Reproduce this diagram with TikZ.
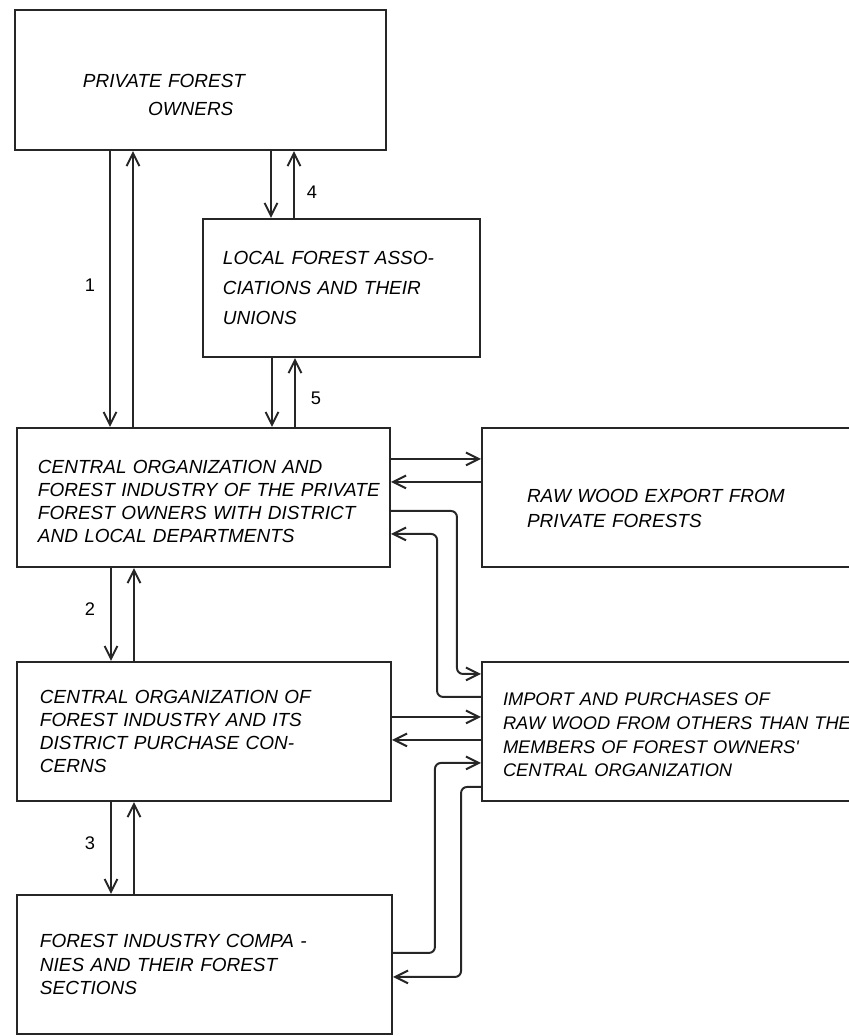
\documentclass[tikz,border=0pt]{standalone}
\usepackage{fontspec}
\newfontfamily\letterfont{Liberation Sans}
\usetikzlibrary{arrows.meta, calc}

\begin{document}
\begin{tikzpicture}[
  x=0.25mm, y=-0.25mm,
  box/.style={rectangle, draw=black!85, line width=1.5pt, align=left,
    inner ysep=2pt, minimum height=34.75mm,
    font=\letterfont\itshape\fontsize{13.5}{16.5}\selectfont},
  arr/.style={-{Straight Barb[length=3.2mm,width=3.2mm]}, line width=1.4pt, black!85},
  loop/.style={arr, rounded corners=1.5mm},
  num/.style={font=\letterfont\fontsize{13}{15}\selectfont}
]
\useasboundingbox (0,0) rectangle (849,1036);

% Boxes
\node[box, minimum width=92.75mm, minimum height=35mm, inner xsep=17mm, text width=58.75mm] (priv) at (200.5,80)
  {\rule{0pt}{31pt}PRIVATE FOREST\\[3.5pt]\hspace*{16.25mm}OWNERS};
\node[box, minimum width=69.25mm, minimum height=34.5mm, inner xsep=5mm, text width=59.25mm] (loc) at (341.5,288)
  {LOCAL FOREST ASSO-\\[5pt]CIATIONS AND THEIR\\[5pt]UNIONS};
\node[box, minimum width=93.25mm, inner xsep=5.25mm, text width=82.75mm] (cent) at (203.5,497.5)
  {\rule{0pt}{15pt}CENTRAL ORGANIZATION AND\\\mbox{FOREST INDUSTRY OF THE PRIVATE}\\FOREST OWNERS WITH DISTRICT\\AND LOCAL DEPARTMENTS};
\node[box, minimum width=97mm, inner xsep=11.25mm, text width=74.5mm] (raw) at (676,497.5)
  {\rule{0pt}{25pt}RAW WOOD EXPORT FROM\\[1.5pt]PRIVATE FORESTS};
\node[box, minimum width=93.5mm, inner xsep=5.75mm, text width=82mm] (ind) at (204,731.5)
  {CENTRAL ORGANIZATION OF\\FOREST INDUSTRY AND ITS\\DISTRICT PURCHASE CON-\\CERNS};
\node[box, minimum width=97mm, inner xsep=5.25mm, text width=86.5mm,
  font=\letterfont\itshape\fontsize{13}{16.8}\selectfont] (imp) at (676,731.5)
  {\rule{0pt}{14pt}IMPORT AND PURCHASES OF\\\mbox{RAW WOOD FROM OTHERS THAN THE}\\MEMBERS OF FOREST OWNERS'\\CENTRAL ORGANIZATION};
\node[box, minimum width=93.75mm, inner xsep=5.75mm, text width=82.25mm] (comp) at (204.5,964.5)
  {FOREST INDUSTRY COMPA -\\NIES AND THEIR FOREST\\SECTIONS};

% Vertical flows
\foreach \up/\dn/\x in {priv/cent/110, priv/loc/271, loc/cent/272, cent/ind/111, ind/comp/111} {
  \draw[arr] (\x,0 |- \up.south) -- (\x,0 |- \dn.north);
  \draw[arr] (\x+23,0 |- \dn.north) -- (\x+23,0 |- \up.south);
}

% Flow numbers
\node[num] (n1) at (90,285) {1};
\node[num] (n2) at (90,609) {2};
\node[num] (n3) at (90,843) {3};
\node[num] (n4) at (312,192) {4};
\node[num] (n5) at (316,398) {5};

% Export
\draw[arr] ($(cent.north east)+(0,32)$) -- ($(raw.north west)+(0,32)$);
\draw[arr] ($(raw.north west)+(0,55)$) -- ($(cent.north east)+(0,55)$);

% Import and purchases
\draw[loop] ($(cent.north east)+(0,84)$) -| ($(imp.north west)+(-24,13)$) -- ($(imp.north west)+(0,13)$);
\draw[loop] ($(imp.north west)+(0,36)$) -| ($(cent.north east)+(46,107)$) -- ($(cent.north east)+(0,107)$);
\draw[arr] ($(ind.north east)+(0,56)$) -- ($(imp.north west)+(0,56)$);
\draw[arr] ($(imp.north west)+(0,79)$) -- ($(ind.north east)+(0,79)$);
\draw[loop] ($(comp.north east)+(0,59)$) -| ($(imp.north west)+(-46,102)$) -- ($(imp.north west)+(0,102)$);
\draw[loop] ($(imp.north west)+(0,126)$) -| ($(comp.north east)+(68,83)$) -- ($(comp.north east)+(0,83)$);

\end{tikzpicture}
\end{document}
